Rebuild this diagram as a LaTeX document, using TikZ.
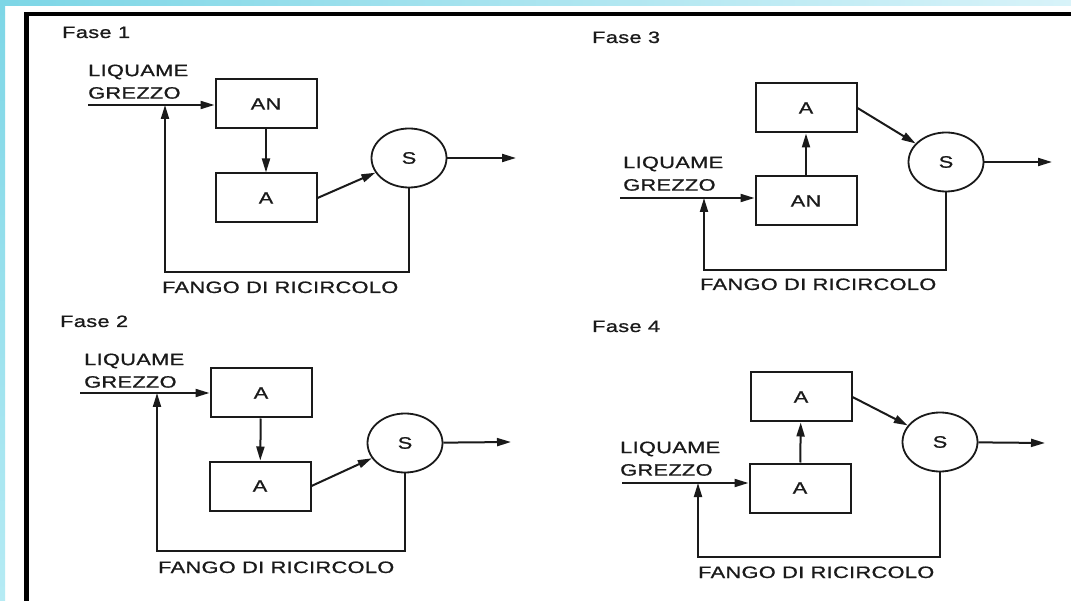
\documentclass[tikz,border=0pt]{standalone}
\usepackage{fontspec}
\setmainfont[FakeStretch=1.32,FakeBold=0.9,LetterSpace=2]{Liberation Sans}
\usetikzlibrary{shapes.geometric,arrows.meta}

\definecolor{ink}{HTML}{1A1A1A}
\definecolor{bandA}{HTML}{7DD6E6}
\definecolor{bandB}{HTML}{D8F3F9}
\definecolor{bandC}{HTML}{B6EBF4}

\begin{document}
\begin{tikzpicture}[x=1pt,y=-1pt,
  lbl/.style={font=\fontsize{16.5}{22.5}\selectfont, text=ink, inner sep=0pt},
  tank/.style={draw=ink, line width=2pt, minimum width=101pt, minimum height=49pt,
               inner sep=0pt, font=\fontsize{16.5}{20}\selectfont, text=ink},
  settler/.style={ellipse, draw=ink, line width=1.8pt, minimum width=75pt, minimum height=59pt,
                  inner sep=0pt, font=\fontsize{16.5}{20}\selectfont, text=ink},
  flow/.style={draw=ink, line width=2pt, -{Triangle[length=14pt,width=8pt]}},
]
\useasboundingbox (0,0) rectangle (1071,601);

% page background and tinted edge bands
\fill[white] (0,0) rectangle (1071,601);
\shade[left color=bandA, right color=bandB] (0,0) rectangle (1071,6);
\shade[top color=bandA, bottom color=bandC] (0,0) rectangle (5,601);

% frame
\draw[line width=4.5pt, black, line join=miter] (26.5,601) -- (26.5,14) -- (1071,14);

% ---------------- Fase 1 ----------------
\node[lbl, anchor=base west] (fase1) at (62,38) {Fase 1};
\node[tank] (AN1) at (266,104) {AN};
\node[tank] (A1) at (266,198) {A};
\node[settler] (S1) at (409,158) {S};
\coordinate (in1) at (88,105);
\coordinate (j1) at (165,105);
\coordinate (r1) at (165,272);
\coordinate (out1) at (516,158);
\node[lbl, align=left, anchor=south west] (liq1) at (88,99) {LIQUAME\\GREZZO};
\node[lbl, anchor=base west] (fango1) at (162,293) {FANGO DI RICIRCOLO};
\draw[flow] (in1) -- (in1 -| AN1.west);
\draw[flow] (AN1) -- (A1);
\draw[flow] (A1.east) -- (S1);
\draw[flow] (S1) -- (out1);
\draw[flow] (S1.south) |- (r1) -- (j1);

% ---------------- Fase 3 ----------------
\node[lbl, anchor=base west] (fase3) at (592,43) {Fase 3};
\node[tank] (A3) at (806,108) {A};
\node[tank] (AN3) at (806,201) {AN};
\node[settler] (S3) at (946,162) {S};
\coordinate (in3) at (620,198);
\coordinate (j3) at (704,198);
\coordinate (r3) at (704,270);
\coordinate (out3) at (1052,162);
\node[lbl, align=left, anchor=south west] (liq3) at (623,191) {LIQUAME\\GREZZO};
\node[lbl, anchor=base west] (fango3) at (700,290) {FANGO DI RICIRCOLO};
\draw[flow] (in3) -- (in3 -| AN3.west);
\draw[flow] (AN3) -- (A3);
\draw[flow] (A3.east) -- (S3);
\draw[flow] (S3) -- (out3);
\draw[flow] (S3.south) |- (r3) -- (j3);

% ---------------- Fase 2 ----------------
\node[lbl, anchor=base west] (fase2) at (60,327) {Fase 2};
\node[tank] (A2a) at (261,393) {A};
\node[tank] (A2b) at (260,486) {A};
\node[settler] (S2) at (405,443) {S};
\coordinate (in2) at (80,393);
\coordinate (j2) at (157,393);
\coordinate (r2) at (157,551);
\coordinate (out2) at (511,442);
\node[lbl, align=left, anchor=south west] (liq2) at (84,388) {LIQUAME\\GREZZO};
\node[lbl, anchor=base west] (fango2) at (158,573) {FANGO DI RICIRCOLO};
\draw[flow] (in2) -- (in2 -| A2a.west);
\draw[flow] (A2a) -- (A2b);
\draw[flow] (A2b.east) -- (S2);
\draw[flow] (S2) -- (out2);
\draw[flow] (S2.south) |- (r2) -- (j2);

% ---------------- Fase 4 ----------------
\node[lbl, anchor=base west] (fase4) at (592,332) {Fase 4};
\node[tank] (A4a) at (801,397) {A};
\node[tank] (A4b) at (800,488) {A};
\node[settler] (S4) at (940,442) {S};
\coordinate (in4) at (622,483);
\coordinate (j4) at (698,483);
\coordinate (r4) at (698,557);
\coordinate (out4) at (1045,443);
\node[lbl, align=left, anchor=south west] (liq4) at (620,476) {LIQUAME\\GREZZO};
\node[lbl, anchor=base west] (fango4) at (698,578) {FANGO DI RICIRCOLO};
\draw[flow] (in4) -- (in4 -| A4b.west);
\draw[flow] (A4b) -- (A4a);
\draw[flow] (A4a.east) -- (S4);
\draw[flow] (S4) -- (out4);
\draw[flow] (S4.south) |- (r4) -- (j4);
\end{tikzpicture}
\end{document}
